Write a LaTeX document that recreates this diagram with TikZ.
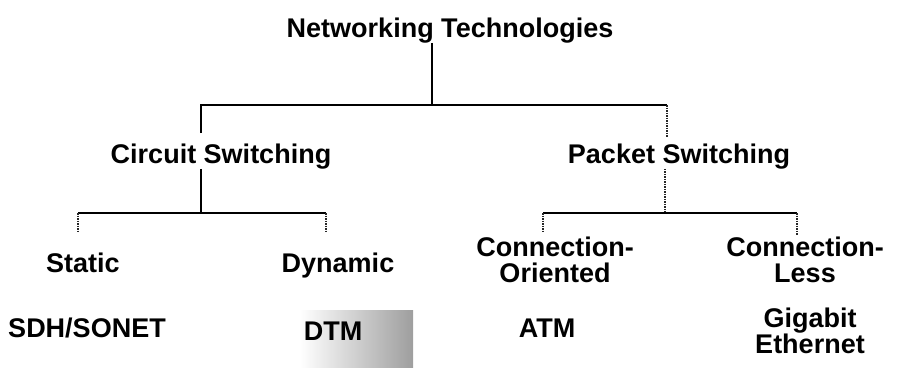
\documentclass[tikz,border=0pt]{standalone}
\usepackage{fontspec}
\setmainfont{Liberation Sans}
\usepackage{tikz}

\begin{document}
\begin{tikzpicture}[x=1pt,y=-1pt,
every node/.style={font=\bfseries\fontsize{27}{30}\selectfont, inner sep=0pt},
twoline/.style={align=center, font=\bfseries\fontsize{27}{26}\selectfont},
tree/.style={line width=1.6pt},
faint/.style={line width=1.5pt, black!85, densely dotted}]
\useasboundingbox (0,0) rectangle (900,368);
% the grey scan patch behind DTM
\fill[left color=white, right color=black!38] (300,310) rectangle (413,367);

% Let us start with the levels of the tree:
\node [anchor=base] (net) at (450,37) {Networking Technologies};
\node [anchor=base] (circ) at (221,163) {Circuit Switching};
\node [anchor=base] (pack) at (679,163) {Packet Switching};
\node [anchor=base] (stat) at (83,272) {Static};
\node [anchor=base] (dyn) at (338,272) {Dynamic};
\node [twoline] (conn o) at (555,260) {Connection-\\Oriented};
\node [twoline] (conn l) at (805,260) {Connection-\\Less};
\foreach \tech/\x/\y/\txt in {sdh/87/337/{SDH/SONET},dtm/333/340/DTM,atm/547/337/ATM}
{
\node [anchor=base] (\tech) at (\x,\y) {\txt};
}
\node [twoline] (giga) at (810,331) {Gigabit\\Ethernet};

% forks and drops
\coordinate (top fork) at (432,105);
\coordinate (circ drop) at (201,133);
\coordinate (pack drop) at (667,137);
\coordinate (circ fork) at (201,213);
\coordinate (pack fork) at (665,213);
\coordinate (stat drop) at (78,233);
\coordinate (dyn drop) at (326,233);
\coordinate (co drop) at (543,232);
\coordinate (cl drop) at (797,235);

\draw[tree] (net.south -| top fork) -- (top fork);
\draw[tree] (circ drop) |- (top fork) -- (top fork -| pack drop);
\draw[faint] (top fork -| pack drop) -- (pack drop);

\draw[tree] (circ.south -| circ fork) -- (circ fork);
\draw[tree] (stat drop |- circ fork) -- (dyn drop |- circ fork);
\draw[faint] (pack.south -| pack fork) -- (pack fork);
\draw[tree] (co drop |- pack fork) -- (cl drop |- pack fork);
\foreach \d/\f in {stat drop/circ fork,dyn drop/circ fork,co drop/pack fork,cl drop/pack fork}
{
\draw[faint] (\d |- \f) -- (\d);
}
\end{tikzpicture}
\end{document}
